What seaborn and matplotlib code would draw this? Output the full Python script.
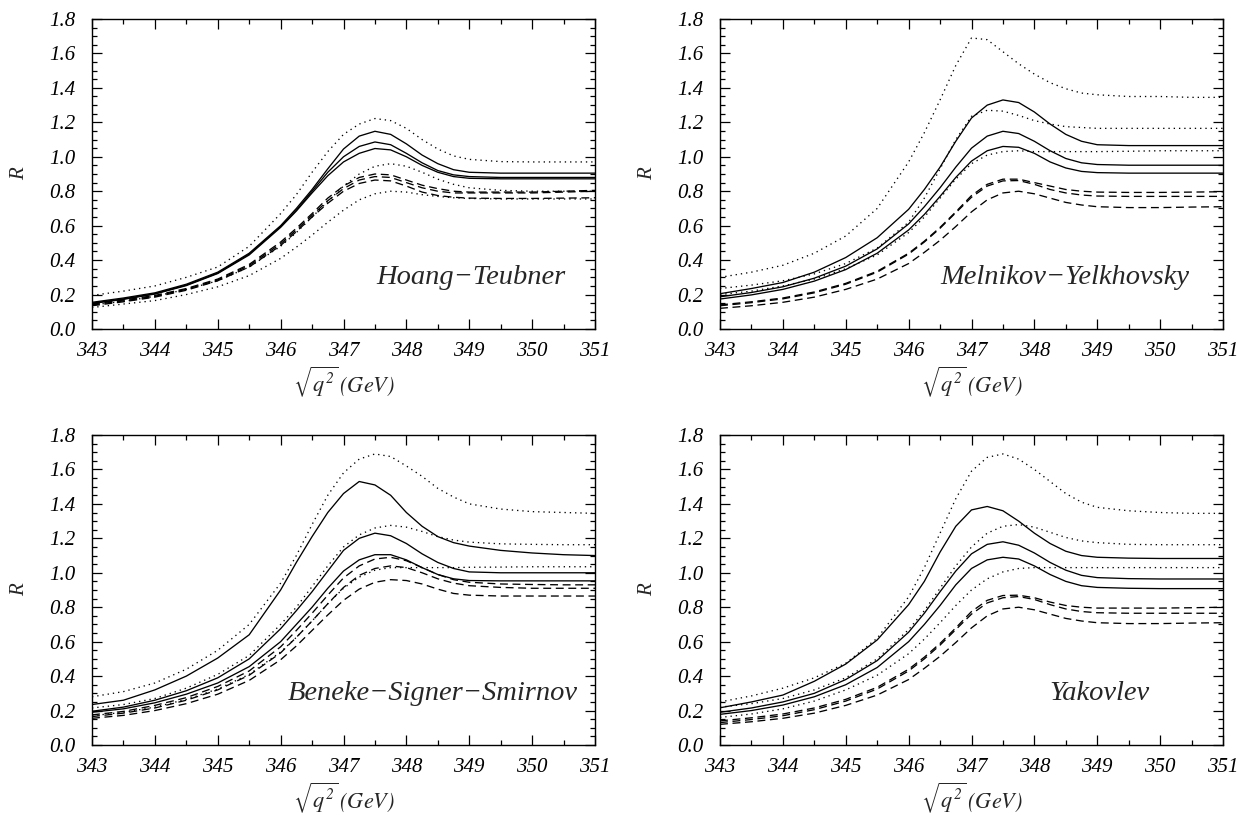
import numpy as np
import pandas as pd
import matplotlib
matplotlib.use("Agg")
import matplotlib.pyplot as plt
from matplotlib.ticker import MultipleLocator, FormatStrFormatter
import seaborn as sns

# Collision energy grid (GeV)
energy = [343, 343.5, 344, 344.5, 345, 345.5, 346, 346.25, 346.5, 346.75, 347,
          347.25, 347.5, 347.75, 348, 348.25, 348.5, 348.75, 349, 349.5, 350, 350.5, 351]

# ---- Hoang-Teubner ----
ht_solid = [
    [0.155, 0.18, 0.21, 0.26, 0.33, 0.44, 0.60, 0.70, 0.81, 0.93, 1.045, 1.12, 1.148, 1.13, 1.075, 1.01, 0.96, 0.925, 0.91, 0.905, 0.905, 0.905, 0.905],
    [0.15, 0.175, 0.205, 0.255, 0.325, 0.435, 0.595, 0.69, 0.80, 0.91, 1.0, 1.06, 1.086, 1.07, 1.02, 0.965, 0.92, 0.895, 0.885, 0.88, 0.88, 0.88, 0.88],
    [0.148, 0.172, 0.203, 0.252, 0.322, 0.43, 0.59, 0.685, 0.79, 0.89, 0.97, 1.02, 1.048, 1.04, 1.0, 0.95, 0.91, 0.885, 0.875, 0.872, 0.872, 0.872, 0.872],
]
ht_dotted = [
    [0.195, 0.22, 0.25, 0.30, 0.36, 0.48, 0.67, 0.78, 0.91, 1.03, 1.13, 1.19, 1.222, 1.21, 1.165, 1.10, 1.045, 1.005, 0.985, 0.972, 0.97, 0.97, 0.97],
    [0.14, 0.16, 0.19, 0.23, 0.28, 0.36, 0.48, 0.56, 0.65, 0.74, 0.83, 0.90, 0.945, 0.96, 0.945, 0.91, 0.87, 0.84, 0.82, 0.805, 0.80, 0.80, 0.80],
    [0.125, 0.145, 0.165, 0.20, 0.245, 0.31, 0.41, 0.475, 0.545, 0.62, 0.69, 0.75, 0.785, 0.80, 0.795, 0.78, 0.77, 0.762, 0.758, 0.755, 0.755, 0.755, 0.755],
]
ht_dashed = [
    [0.145, 0.168, 0.195, 0.235, 0.29, 0.375, 0.505, 0.585, 0.67, 0.76, 0.83, 0.88, 0.90, 0.895, 0.865, 0.835, 0.815, 0.80, 0.795, 0.795, 0.795, 0.80, 0.805],
    [0.14, 0.163, 0.19, 0.23, 0.285, 0.368, 0.495, 0.575, 0.66, 0.745, 0.815, 0.865, 0.885, 0.88, 0.85, 0.82, 0.80, 0.79, 0.79, 0.79, 0.79, 0.795, 0.80],
    [0.135, 0.158, 0.185, 0.225, 0.28, 0.36, 0.485, 0.565, 0.65, 0.73, 0.80, 0.845, 0.865, 0.86, 0.83, 0.795, 0.775, 0.765, 0.76, 0.758, 0.758, 0.76, 0.762],
]

# ---- Melnikov-Yelkhovsky ----
my_solid = [
    [0.205, 0.235, 0.27, 0.33, 0.415, 0.53, 0.695, 0.81, 0.94, 1.09, 1.225, 1.30, 1.33, 1.315, 1.26, 1.19, 1.13, 1.09, 1.07, 1.065, 1.065, 1.065, 1.065],
    [0.187, 0.212, 0.245, 0.295, 0.365, 0.465, 0.61, 0.71, 0.82, 0.94, 1.05, 1.12, 1.148, 1.135, 1.09, 1.035, 0.99, 0.965, 0.955, 0.951, 0.951, 0.951, 0.951],
    [0.174, 0.198, 0.23, 0.278, 0.345, 0.44, 0.575, 0.665, 0.77, 0.88, 0.975, 1.035, 1.06, 1.055, 1.02, 0.97, 0.935, 0.915, 0.908, 0.905, 0.905, 0.905, 0.905],
]
my_dotted = [
    [0.30, 0.33, 0.37, 0.44, 0.54, 0.70, 0.97, 1.14, 1.33, 1.53, 1.69, 1.68, 1.61, 1.54, 1.48, 1.43, 1.395, 1.37, 1.36, 1.35, 1.35, 1.345, 1.345],
    [0.235, 0.255, 0.28, 0.32, 0.38, 0.47, 0.62, 0.76, 0.93, 1.10, 1.235, 1.27, 1.265, 1.24, 1.21, 1.19, 1.175, 1.17, 1.165, 1.165, 1.165, 1.165, 1.165],
    [0.20, 0.22, 0.25, 0.29, 0.35, 0.43, 0.56, 0.65, 0.76, 0.87, 0.96, 1.01, 1.03, 1.035, 1.03, 1.03, 1.03, 1.03, 1.03, 1.032, 1.035, 1.035, 1.035],
]
my_dashed = [
    [0.14, 0.158, 0.18, 0.215, 0.265, 0.335, 0.44, 0.51, 0.59, 0.68, 0.775, 0.84, 0.87, 0.87, 0.85, 0.83, 0.81, 0.80, 0.795, 0.793, 0.793, 0.795, 0.797],
    [0.135, 0.153, 0.175, 0.21, 0.26, 0.33, 0.435, 0.505, 0.585, 0.675, 0.765, 0.83, 0.86, 0.862, 0.84, 0.81, 0.79, 0.778, 0.772, 0.77, 0.77, 0.77, 0.77],
    [0.12, 0.135, 0.155, 0.185, 0.23, 0.29, 0.38, 0.445, 0.515, 0.595, 0.68, 0.75, 0.79, 0.80, 0.785, 0.76, 0.735, 0.72, 0.71, 0.705, 0.705, 0.708, 0.71],
]

# ---- Beneke-Signer-Smirnov ----
bss_solid = [
    [0.235, 0.26, 0.32, 0.40, 0.505, 0.64, 0.90, 1.06, 1.21, 1.35, 1.46, 1.53, 1.51, 1.45, 1.35, 1.27, 1.21, 1.175, 1.155, 1.13, 1.115, 1.105, 1.10],
    [0.196, 0.22, 0.26, 0.315, 0.39, 0.50, 0.675, 0.78, 0.89, 1.01, 1.13, 1.20, 1.23, 1.215, 1.17, 1.11, 1.06, 1.025, 1.005, 1.0, 1.0, 1.0, 1.0],
    [0.19, 0.21, 0.245, 0.295, 0.36, 0.455, 0.60, 0.70, 0.80, 0.91, 1.01, 1.075, 1.105, 1.105, 1.075, 1.03, 0.99, 0.965, 0.955, 0.953, 0.953, 0.953, 0.953],
]
bss_dotted = [
    [0.28, 0.31, 0.36, 0.44, 0.55, 0.70, 0.94, 1.10, 1.28, 1.45, 1.58, 1.66, 1.69, 1.675, 1.62, 1.56, 1.49, 1.44, 1.40, 1.37, 1.355, 1.35, 1.345],
    [0.215, 0.235, 0.27, 0.33, 0.41, 0.52, 0.70, 0.80, 0.92, 1.04, 1.15, 1.22, 1.26, 1.275, 1.265, 1.24, 1.21, 1.19, 1.178, 1.168, 1.165, 1.163, 1.163],
    [0.17, 0.19, 0.22, 0.265, 0.325, 0.41, 0.54, 0.625, 0.72, 0.82, 0.91, 0.975, 1.015, 1.03, 1.03, 1.03, 1.03, 1.03, 1.032, 1.033, 1.035, 1.035, 1.035],
]
bss_dashed = [
    [0.175, 0.195, 0.23, 0.275, 0.34, 0.43, 0.57, 0.665, 0.765, 0.87, 0.97, 1.04, 1.08, 1.09, 1.07, 1.03, 0.99, 0.96, 0.945, 0.935, 0.932, 0.93, 0.93],
    [0.165, 0.185, 0.215, 0.26, 0.32, 0.405, 0.535, 0.625, 0.72, 0.82, 0.915, 0.985, 1.025, 1.04, 1.03, 1.0, 0.965, 0.94, 0.925, 0.915, 0.91, 0.91, 0.91],
    [0.155, 0.172, 0.20, 0.24, 0.295, 0.375, 0.495, 0.575, 0.665, 0.755, 0.84, 0.905, 0.945, 0.96, 0.955, 0.935, 0.905, 0.88, 0.87, 0.865, 0.865, 0.865, 0.865],
]

# ---- Yakovlev ----
yak_solid = [
    [0.216, 0.25, 0.29, 0.37, 0.47, 0.61, 0.815, 0.95, 1.12, 1.27, 1.365, 1.385, 1.36, 1.30, 1.23, 1.17, 1.125, 1.10, 1.09, 1.085, 1.083, 1.083, 1.083],
    [0.19, 0.215, 0.25, 0.30, 0.38, 0.49, 0.655, 0.765, 0.89, 1.01, 1.11, 1.165, 1.18, 1.16, 1.115, 1.06, 1.015, 0.985, 0.972, 0.966, 0.964, 0.964, 0.964],
    [0.178, 0.20, 0.232, 0.28, 0.35, 0.45, 0.60, 0.70, 0.81, 0.93, 1.025, 1.075, 1.09, 1.08, 1.04, 0.99, 0.95, 0.925, 0.915, 0.91, 0.908, 0.908, 0.908],
]
yak_dotted = [
    [0.25, 0.285, 0.33, 0.39, 0.475, 0.62, 0.86, 1.03, 1.23, 1.43, 1.59, 1.67, 1.69, 1.66, 1.60, 1.53, 1.46, 1.41, 1.38, 1.36, 1.35, 1.345, 1.345],
    [0.22, 0.24, 0.27, 0.32, 0.39, 0.50, 0.67, 0.78, 0.91, 1.04, 1.15, 1.23, 1.27, 1.28, 1.265, 1.235, 1.205, 1.185, 1.175, 1.165, 1.163, 1.163, 1.163],
    [0.16, 0.18, 0.21, 0.255, 0.32, 0.405, 0.53, 0.615, 0.71, 0.81, 0.90, 0.965, 1.005, 1.025, 1.03, 1.03, 1.03, 1.03, 1.03, 1.03, 1.03, 1.03, 1.03],
]
yak_dashed = [
    [0.14, 0.158, 0.18, 0.215, 0.265, 0.335, 0.44, 0.51, 0.59, 0.68, 0.775, 0.84, 0.868, 0.87, 0.855, 0.83, 0.81, 0.80, 0.795, 0.795, 0.795, 0.797, 0.80],
    [0.13, 0.148, 0.17, 0.205, 0.255, 0.325, 0.43, 0.50, 0.58, 0.67, 0.76, 0.825, 0.855, 0.862, 0.845, 0.815, 0.79, 0.775, 0.768, 0.765, 0.765, 0.765, 0.765],
    [0.12, 0.135, 0.155, 0.185, 0.23, 0.29, 0.38, 0.445, 0.515, 0.595, 0.68, 0.75, 0.79, 0.80, 0.785, 0.76, 0.735, 0.72, 0.71, 0.705, 0.705, 0.708, 0.71],
]

panels = [
    ("Hoang\u2212Teubner", ht_solid, ht_dotted, ht_dashed),
    ("Melnikov\u2212Yelkhovsky", my_solid, my_dotted, my_dashed),
    ("Beneke\u2212Signer\u2212Smirnov", bss_solid, bss_dotted, bss_dashed),
    ("Yakovlev", yak_solid, yak_dotted, yak_dashed),
]

sns.set_theme(style="ticks")
plt.rcParams.update({
    "font.family": ["Liberation Serif", "DejaVu Serif"],
    "font.style": "italic",
    "mathtext.fontset": "stix",
    "axes.linewidth": 1.0,
    "axes.edgecolor": "black",
    "xtick.color": "black",
    "ytick.color": "black",
})

fig = plt.figure(figsize=(12.4, 8.17), dpi=100)
W, H = 1240, 817
boxes = [(92, 19), (720, 19), (92, 435), (720, 435)]
label_pos = [0.942, 0.934, 0.966, 0.853]

dash_map = {"solid": "", "dotted": (1, 3), "dashed": (6, 3.5)}

for (name, solid, dotted, dashed), (px, py), tx in zip(panels, boxes, label_pos):
    ax = fig.add_axes([px / W, 1 - (py + 310) / H, 503 / W, 310 / H])
    rows = []
    for kind, group in (("solid", solid), ("dotted", dotted), ("dashed", dashed)):
        for i, ys in enumerate(group):
            for xv, yv in zip(energy, ys):
                rows.append({"sqrt_s": xv, "R": yv, "kind": kind, "curve": f"{kind}{i}"})
    df = pd.DataFrame(rows)
    sns.lineplot(data=df, x="sqrt_s", y="R", units="curve", estimator=None,
                 style="kind", dashes=dash_map, color="black", lw=0.95,
                 legend=False, ax=ax, sort=False)

    ax.set_xlim(343, 351)
    ax.set_ylim(0, 1.8)
    ax.xaxis.set_major_locator(MultipleLocator(1))
    ax.xaxis.set_minor_locator(MultipleLocator(0.5))
    ax.yaxis.set_major_locator(MultipleLocator(0.2))
    ax.yaxis.set_minor_locator(MultipleLocator(0.05))
    ax.yaxis.set_major_formatter(FormatStrFormatter("%.1f"))
    ax.xaxis.set_major_formatter(FormatStrFormatter("%d"))
    ax.tick_params(which="both", direction="in", top=True, right=True,
                   labelsize=15, width=0.9)
    ax.tick_params(which="major", length=7)
    ax.tick_params(which="minor", length=3.5)
    ax.tick_params(axis="x", which="major", pad=9.5)
    ax.tick_params(axis="y", which="major", pad=12)

    ax.set_xlabel(r"$\sqrt{q^2}\,(GeV)$", fontsize=16, labelpad=2)
    ax.set_ylabel("R", fontsize=15)
    ax.yaxis.set_label_coords(-0.126, 0.5)
    ax.text(tx, 0.145, name, transform=ax.transAxes, ha="right", va="baseline",
            fontsize=20.5, style="italic")

fig.savefig("out.png", dpi=100)
